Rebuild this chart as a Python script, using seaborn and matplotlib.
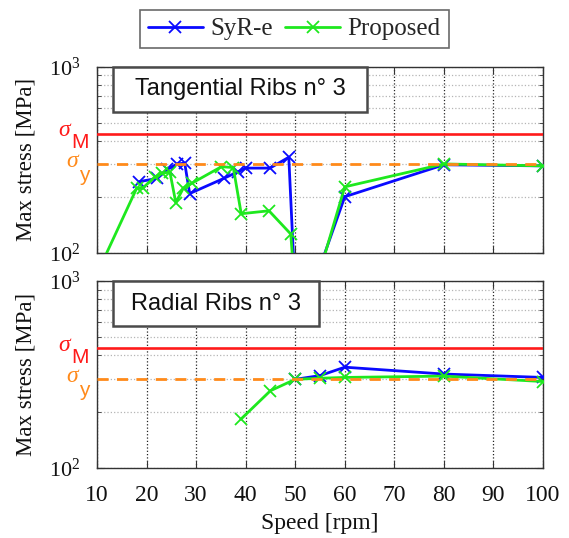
import matplotlib
matplotlib.use('Agg')
import matplotlib.pyplot as plt
import matplotlib.transforms as mtransforms
from matplotlib.patches import Rectangle
from matplotlib.ticker import LogLocator, NullFormatter, FixedLocator
import seaborn as sns
import pandas as pd

# ---------------- data ----------------
speed_syre_tan = [18.5, 22.2, 24.2, 26.2, 27.7, 28.7, 35.6, 38.4, 40.0, 44.9, 48.7, 50, 55, 60, 80, 100]
stress_syre_tan = [241, 251, 281, 300, 303, 208, 251, 272, 285, 285, 326, 60, 84, 200, 297, 293]

speed_prop_tan = [10, 18.0, 19.2, 21.7, 23.2, 24.7, 25.9, 27.4, 29.1, 35.1, 37.5, 39.1, 44.7, 49.1, 50, 55, 60, 80, 100]
stress_prop_tan = [77, 222, 222, 256, 267, 272, 186, 222, 236, 290, 287, 162, 168, 126, 60, 80, 226, 300, 293]

speed_syre_rad = [50, 55, 60, 80, 100]
stress_syre_rad = [298, 312, 346, 318, 305]

speed_prop_rad = [39, 45, 50, 55, 60, 80, 100]
stress_prop_rad = [182, 259, 298, 302, 305, 310, 290]

sigma_M = 436
sigma_y = 300
panel_titles = ["Tangential Ribs n\u00b0 3", "Radial Ribs n\u00b0 3"]
series_names = ["SyR-e", "Proposed"]
xticks = [10, 20, 30, 40, 50, 60, 70, 80, 90, 100]

# ---------------- style ----------------
sns.set_theme(style='white')
plt.rcParams['font.family'] = ['Liberation Serif', 'DejaVu Serif']
plt.rcParams['mathtext.fontset'] = 'custom'
plt.rcParams['mathtext.rm'] = 'Liberation Serif'
plt.rcParams['mathtext.it'] = 'Liberation Serif:italic'

BLUE = '#0a0aff'
GREEN = '#1ee81e'
RED = '#ff1a1a'
ORANGE = '#ff8a1a'
SPINE = '#333333'

fig = plt.figure(figsize=(5.69, 5.38), dpi=100)
ax1 = fig.add_axes([0.1705, 0.5303, 0.7838, 0.3457])
ax2 = fig.add_axes([0.1705, 0.1301, 0.7838, 0.3476])

panels = [
    (ax1, speed_syre_tan, stress_syre_tan, speed_prop_tan, stress_prop_tan, panel_titles[0], 0.605),
    (ax2, speed_syre_rad, stress_syre_rad, speed_prop_rad, stress_prop_rad, panel_titles[1], 0.498),
]

for ax, xs_b, ys_b, xs_g, ys_g, title, box_right in panels:
    df_b = pd.DataFrame({'speed': xs_b, 'stress': ys_b})
    df_g = pd.DataFrame({'speed': xs_g, 'stress': ys_g})
    sns.lineplot(data=df_b, x='speed', y='stress', ax=ax, color=BLUE, lw=2.0,
                 marker='x', markersize=8.5, markeredgecolor=BLUE, markeredgewidth=1.3,
                 estimator=None, sort=False, label=series_names[0], zorder=3)
    sns.lineplot(data=df_g, x='speed', y='stress', ax=ax, color=GREEN, lw=2.0,
                 marker='x', markersize=8.5, markeredgecolor=GREEN, markeredgewidth=1.3,
                 estimator=None, sort=False, label=series_names[1], zorder=4)
    ax.axhline(sigma_M, color=RED, lw=1.9, zorder=5)
    ax.axhline(sigma_y, color=ORANGE, lw=2.0, ls=(0, (4, 3)), zorder=5)

    ax.set_yscale('log')
    ax.set_ylim(100, 1000)
    ax.set_xlim(10, 100)
    ax.xaxis.set_major_locator(FixedLocator(xticks))
    ax.yaxis.set_major_locator(LogLocator(base=10, numticks=5))
    ax.yaxis.set_minor_locator(LogLocator(base=10, subs=range(2, 10), numticks=20))
    ax.yaxis.set_minor_formatter(NullFormatter())

    ax.grid(True, which='major', axis='x', ls=':', color='#222222', lw=0.9)
    ax.grid(True, which='both', axis='y', ls=':', color='#b5b5b5', lw=0.9)
    ax.set_axisbelow(True)

    ax.tick_params(which='both', direction='in', top=True, right=True,
                   color=SPINE, bottom=True, left=True)
    ax.tick_params(which='major', length=5, width=0.8)
    ax.tick_params(which='minor', length=3, width=0.6)
    ax.tick_params(axis='x', labelsize=17, pad=12, labelcolor='#111111')
    ax.tick_params(axis='y', labelsize=16, pad=12, labelcolor='#111111')
    for sp in ax.spines.values():
        sp.set_color(SPINE)
        sp.set_linewidth(1.0)

    ax.set_ylabel('Max stress [MPa]', fontsize=16.5, color='#111111')
    ax.yaxis.set_label_coords(-0.135, 0.5)
    ax.set_xlabel('')
    leg = ax.get_legend()
    if leg is not None:
        leg.remove()

    # label box
    ax.add_patch(Rectangle((0.036, 0.757), box_right - 0.036, 0.243, transform=ax.transAxes,
                           facecolor='white', edgecolor='#4a4a4a', lw=1.8, zorder=10,
                           clip_on=False))
    ax.text((0.036 + box_right) / 2, 0.878, title, transform=ax.transAxes,
            ha='center', va='center', fontsize=17, family=['Liberation Sans', 'DejaVu Sans'],
            color='#111111', zorder=11)

    # sigma labels left of the axis
    trans = mtransforms.blended_transform_factory(ax.transAxes, ax.transData)
    for val, sub, col, sdx, sdy, mdx, mdy in [
        (sigma_M, 'M', RED, -33, 3, -17, -9),
        (sigma_y, 'y', ORANGE, -25, 2, -13, -12),
    ]:
        ax.annotate('\u03c3', xy=(0, val), xycoords=trans, xytext=(sdx, sdy),
                    textcoords='offset pixels', ha='center', va='center',
                    fontsize=17, style='italic', color=col,
                    family=['Liberation Serif', 'DejaVu Serif'], annotation_clip=False)
        ax.annotate(sub, xy=(0, val), xycoords=trans, xytext=(mdx, mdy),
                    textcoords='offset pixels', ha='center', va='center',
                    fontsize=15, color=col,
                    family=['Liberation Sans', 'DejaVu Sans'], annotation_clip=False)

ax1.tick_params(axis='x', labelbottom=False)
ax2.set_xlabel('Speed [rpm]', fontsize=17, color='#111111', labelpad=5)

handles, labels = ax1.get_legend_handles_labels()
fig.legend(handles[:2], labels[:2], loc='center', bbox_to_anchor=(0.517, 0.946), ncol=2,
           fontsize=18, frameon=True, fancybox=False, edgecolor='#444444',
           handlelength=2.2, handletextpad=0.3, columnspacing=0.5, borderpad=0.32,
           borderaxespad=0.0)
leg = fig.legends[0]
leg.get_frame().set_linewidth(1.2)

fig.savefig('out.png', dpi=100)
